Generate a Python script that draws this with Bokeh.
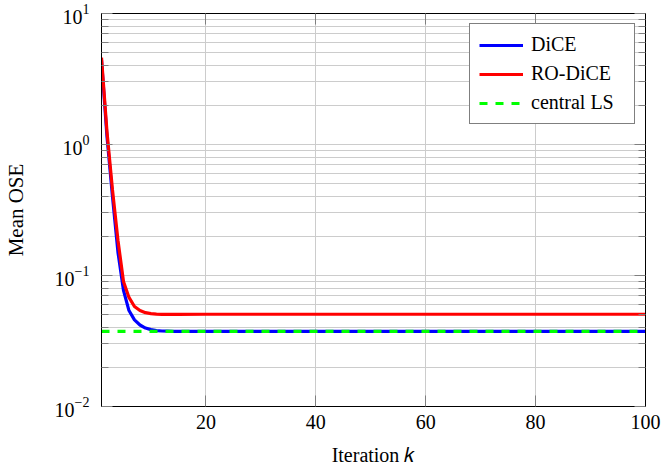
from bokeh.plotting import figure
from bokeh.models import (Range1d, FixedTicker, LogAxis, LinearAxis, Legend,
                          LegendItem)
from bokeh.embed import file_html
from bokeh.resources import INLINE

# ---- data ----
iterations = [1, 2, 3, 4, 5, 6, 7, 8, 9, 10, 11, 12, 13, 14, 15,
              20, 25, 30, 40, 50, 60, 70, 80, 90, 100]
dice = [4.4, 1.15, 0.40, 0.150, 0.077, 0.054, 0.0458, 0.0419, 0.0397, 0.0386,
        0.0380, 0.0377, 0.0376, 0.0375, 0.0375,
        0.0375, 0.0375, 0.0375, 0.0375, 0.0375, 0.0375, 0.0375, 0.0375, 0.0375, 0.0375]
ro_dice = [4.6, 1.25, 0.45, 0.185, 0.090, 0.068, 0.058, 0.054, 0.052, 0.0512,
           0.0507, 0.0505, 0.0505, 0.0505, 0.0505,
           0.0506, 0.0506, 0.0506, 0.0506, 0.0506, 0.0506, 0.0506, 0.0506, 0.0506, 0.0506]
central_k = [1, 100]
central_ls = [0.0375, 0.0375]

x_ticks = [20, 40, 60, 80, 100]
y_major = [0.01, 0.1, 1, 10]
y_minor = [m * d for d in (0.01, 0.1, 1) for m in range(2, 10)]

FONT = "Liberation Serif"
GRID = "#cccccc"
TICK = "#7f7f7f"

p = figure(width=665, height=470,
           x_range=Range1d(1, 100), y_range=Range1d(0.01, 10),
           y_axis_type="log", output_backend="svg", toolbar_location=None,
           min_border_left=101, min_border_right=20, min_border_top=13,
           min_border_bottom=64)
p.background_fill_color = "white"
p.border_fill_color = "white"
p.outline_line_color = "black"
p.outline_line_width = 1

xt = FixedTicker(ticks=x_ticks)
yt = FixedTicker(ticks=y_major, minor_ticks=y_minor)

# bottom axis
xa = p.xaxis[0]
xa.ticker = xt
xa.axis_line_color = "black"
xa.major_tick_in = 11
xa.major_tick_out = 0
xa.major_tick_line_color = TICK
xa.minor_tick_line_color = None
xa.major_label_text_font = FONT
xa.major_label_text_font_size = "20px"
xa.major_label_text_color = "black"
xa.major_label_standoff = 8
xa.axis_label = "Iteration \U0001D458"
xa.axis_label_text_font = FONT
xa.axis_label_text_font_style = "normal"
xa.axis_label_text_font_size = "20px"
xa.axis_label_text_color = "black"
xa.axis_label_standoff = 12

# left axis
ya = p.yaxis[0]
ya.ticker = yt
ya.axis_line_color = "black"
ya.major_tick_in = 11
ya.major_tick_out = 0
ya.minor_tick_in = 7
ya.minor_tick_out = 0
ya.major_tick_line_color = TICK
ya.minor_tick_line_color = TICK
ya.major_label_text_font = FONT
ya.major_label_text_font_size = "20px"
ya.major_label_text_color = "black"
ya.major_label_standoff = 12
ya.axis_label = "Mean OSE"
ya.axis_label_text_font = FONT
ya.axis_label_text_font_style = "normal"
ya.axis_label_text_font_size = "21px"
ya.axis_label_text_color = "black"
ya.axis_label_standoff = 24

# mirrored ticks on right and top
ra = LogAxis(ticker=yt, axis_line_color="black", major_tick_in=11, major_tick_out=0,
             minor_tick_in=7, minor_tick_out=0, major_tick_line_color=TICK,
             minor_tick_line_color=TICK, major_label_text_font_size="0px",
             major_label_text_color=None, major_label_standoff=0)
p.add_layout(ra, "right")
ta = LinearAxis(ticker=xt, axis_line_color="black", major_tick_in=11, major_tick_out=0,
                major_tick_line_color=TICK, minor_tick_line_color=None,
                major_label_text_font_size="0px", major_label_text_color=None,
                major_label_standoff=0)
p.add_layout(ta, "above")

# grids
p.xgrid.ticker = xt
p.xgrid.grid_line_color = GRID
p.ygrid.ticker = yt
p.ygrid.grid_line_color = GRID
p.ygrid.minor_grid_line_color = GRID

# lines
rb = p.line(iterations, dice, line_color="#0000ff", line_width=3.2)
rr = p.line(iterations, ro_dice, line_color="#ff0000", line_width=3.2)
rg = p.line(central_k, central_ls, line_color="#00ff00", line_width=3.2,
            line_dash="8 8")

legend = Legend(items=[LegendItem(label="DiCE", renderers=[rb]),
                       LegendItem(label="RO-DiCE", renderers=[rr]),
                       LegendItem(label="central LS", renderers=[rg])],
                location="top_right", margin=10, padding=9, spacing=6,
                glyph_width=44, glyph_height=22, label_height=22, label_width=94,
                label_standoff=8, border_line_color="black", border_line_width=1,
                background_fill_color="white", background_fill_alpha=1.0,
                label_text_font=FONT, label_text_font_size="20px",
                label_text_color="black")
p.add_layout(legend)

open("out.html", "w").write(file_html(p, INLINE))
